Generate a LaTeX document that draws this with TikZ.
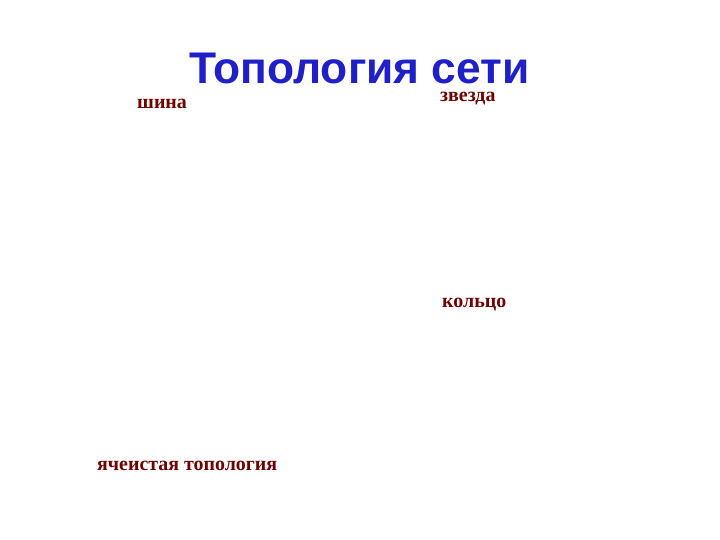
\documentclass[tikz,border=0pt]{standalone}
\usepackage{fontspec}
\setmainfont{Liberation Serif}
\newfontfamily\titlefont{Liberation Sans}
\usetikzlibrary{positioning}
\definecolor{titleblue}{RGB}{32,32,200}
\definecolor{labelred}{RGB}{110,0,0}
\tikzset{
  heading/.style={anchor=base west, inner sep=0pt, text=titleblue,
    font=\titlefont\bfseries\fontsize{44.5}{50}\selectfont},
  toplabel/.style={anchor=base west, inner sep=0pt, text=labelred,
    font=\bfseries\fontsize{20}{22}\selectfont}
}
\begin{document}
\begin{tikzpicture}[x=1bp,y=-1bp]
  \useasboundingbox[fill=white] (0,0) rectangle (720,540);
  % title
  \node[heading] (title) at (189,84) {Топология сети};
  % kinds of topology
  \node[toplabel] (bus) at (137,109) {шина};
  \node[toplabel] (star) at (440,102) {звезда};
  \node[toplabel] (ring) at (442,307) {кольцо};
  \node[toplabel] (mesh) at (97,470) {ячеистая топология};
\end{tikzpicture}
\end{document}
